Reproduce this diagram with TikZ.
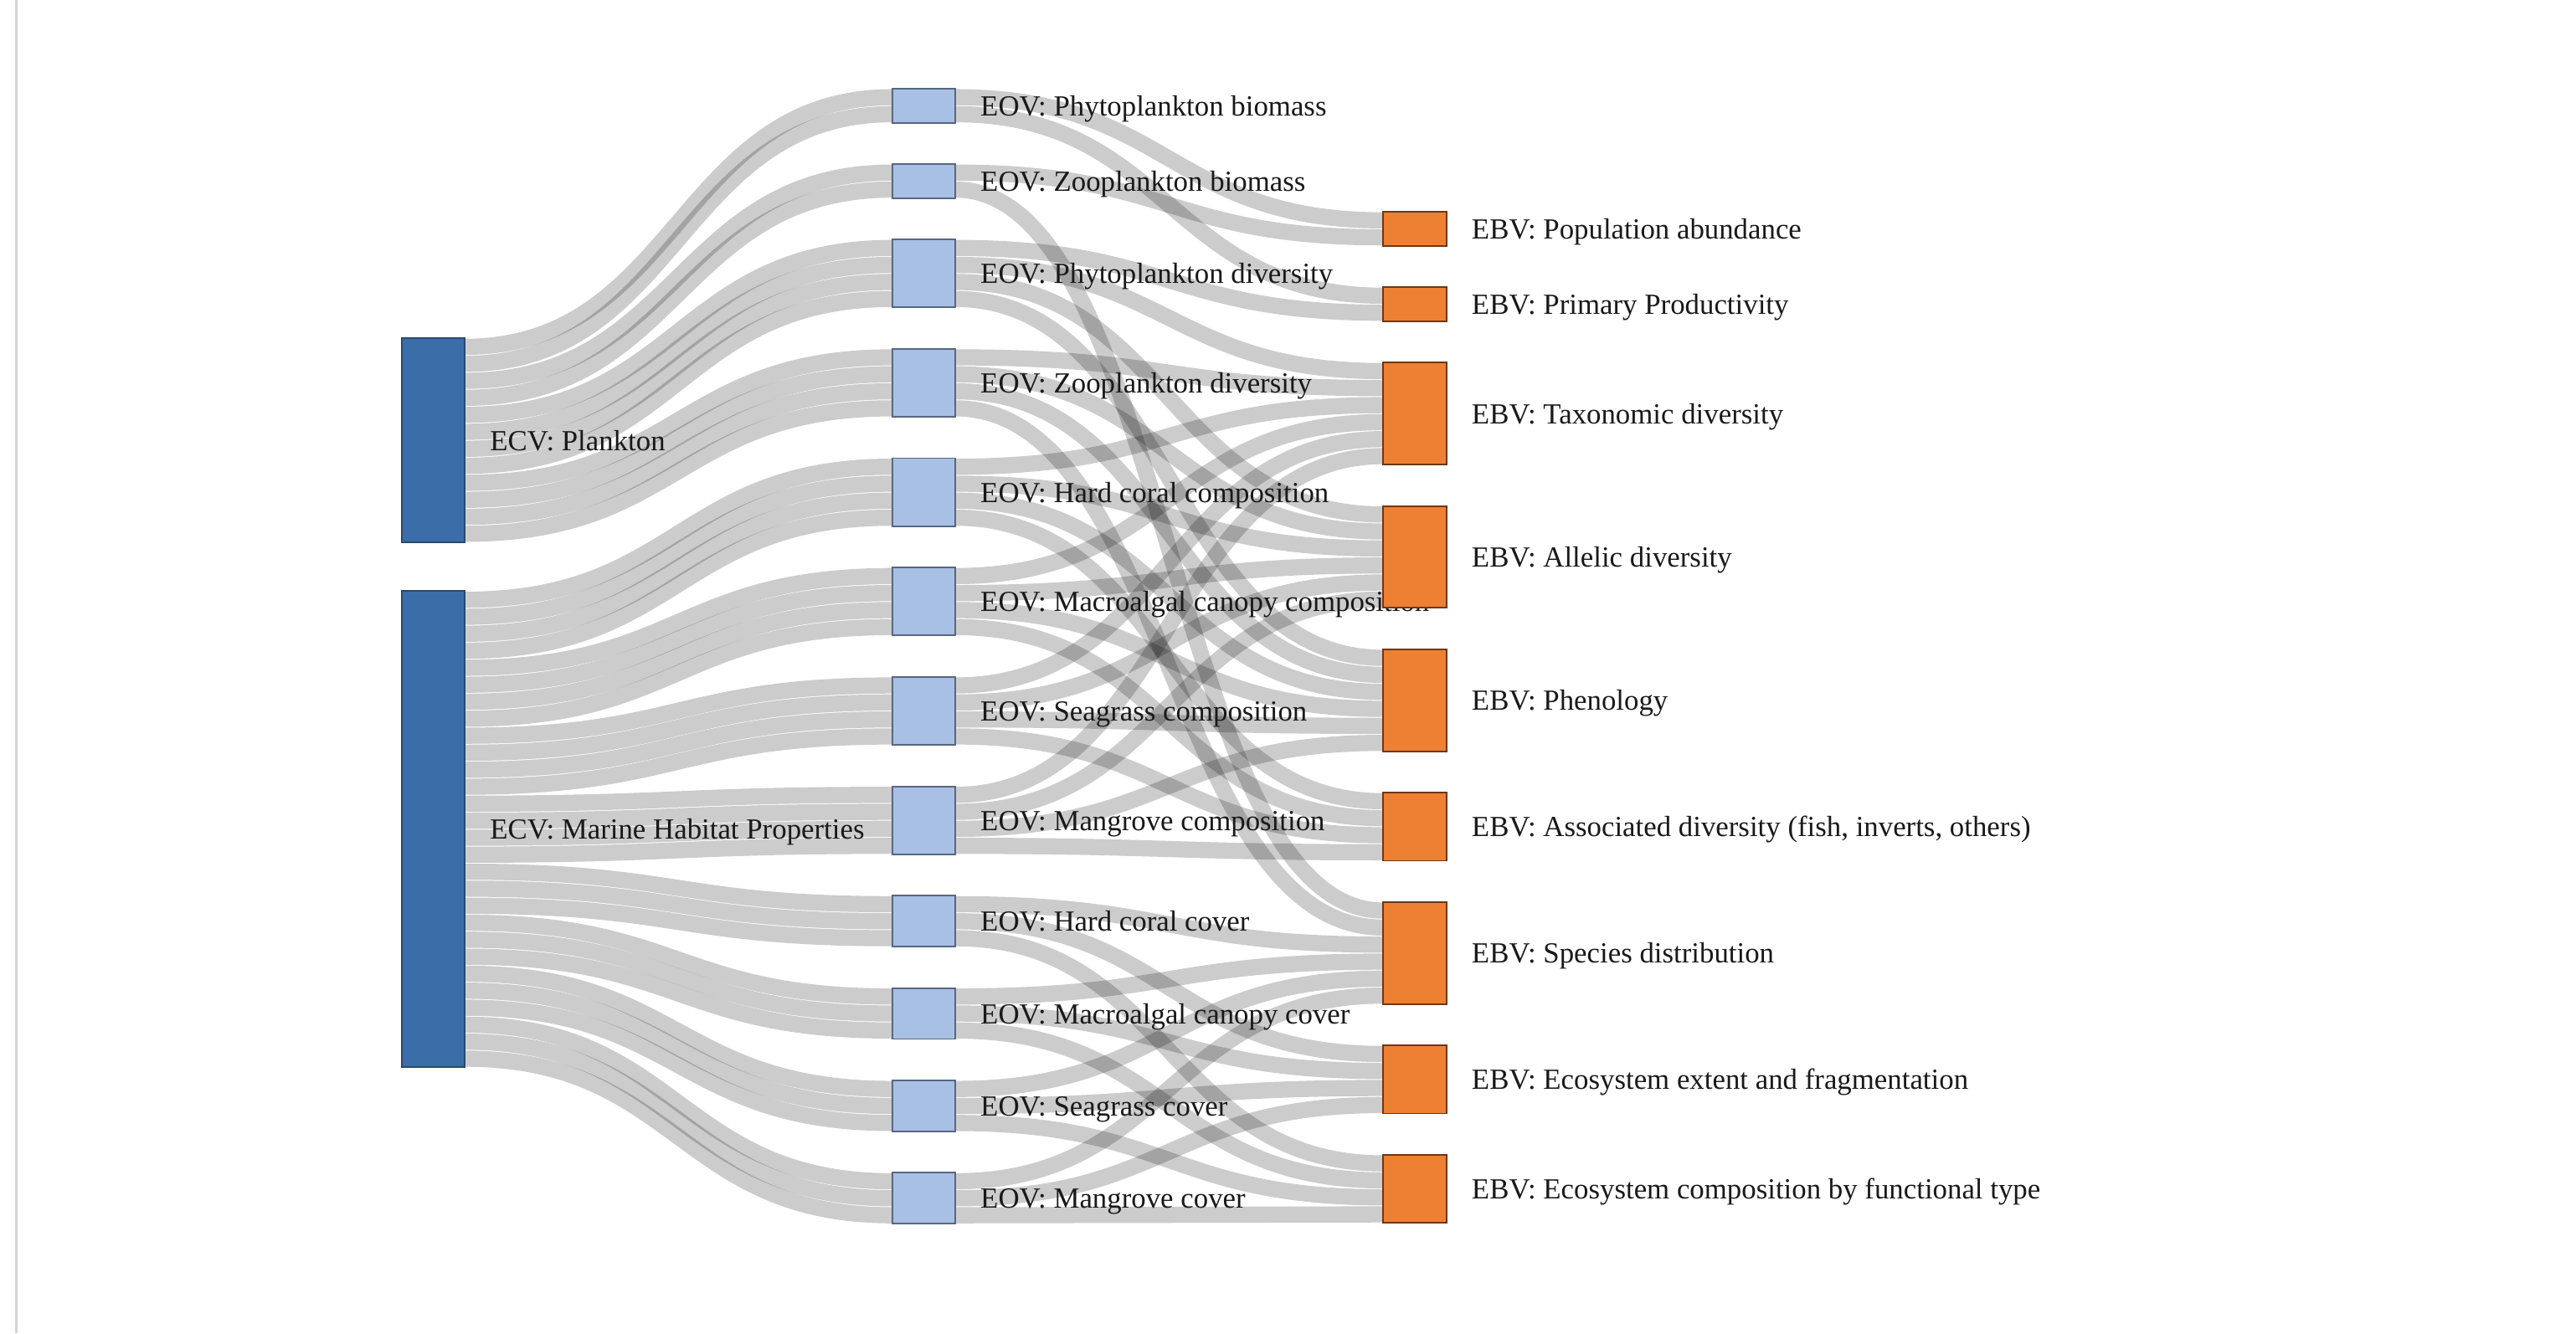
\documentclass[tikz,border=0pt]{standalone}
\usepackage{fontspec}
\setmainfont{Liberation Serif}
\usetikzlibrary{calc,backgrounds}

\definecolor{ecvfill}{RGB}{59,110,168}
\definecolor{ecvline}{RGB}{40,72,110}
\definecolor{eovfill}{RGB}{168,192,228}
\definecolor{eovline}{RGB}{88,102,128}
\definecolor{ebvfill}{RGB}{238,128,52}
\definecolor{ebvline}{RGB}{110,55,18}
\definecolor{lbltext}{RGB}{25,25,25}

\newcommand{\strand}[4]{%
  \draw[flow] ($(#1.north east)+(0,{(#2+0.5)*10.35})$)
    .. controls +(130,0) and +(-130,0) ..
    ($(#3.north west)+(0,{(#4+0.5)*10.35})$);}

\begin{document}
\begin{tikzpicture}[x=0.02cm, y=-0.02cm,
  box/.style={draw, line width=0.02cm, inner sep=0pt, outer sep=0pt, minimum width=0.77cm, anchor=north west},
  nh/.style={minimum height=#1*0.207cm},
  ecv/.style={box, fill=ecvfill, draw=ecvline},
  eov/.style={box, fill=eovfill, draw=eovline},
  ebv/.style={box, fill=ebvfill, draw=ebvline},
  lbl/.style={anchor=base west, inner sep=0pt, xshift=0.3cm, yshift=-0.35em, text=lbltext, font=\fontsize{10.1}{12}\selectfont},
  flow/.style={draw=black, draw opacity=0.2, line width=0.197cm}]
\useasboundingbox (0,0) rectangle (1568,812);
\draw[line width=0.03cm, draw=black!17] (10,0) -- (10,812);

\draw (244.5,206) node[ecv, nh=12] (plank) {} ;
\draw (plank.east) node[lbl] (plankt) {ECV: Plankton} ;
\draw (244.5,360) node[ecv, nh=28] (mhp) {} ;
\draw (mhp.east) node[lbl] (mhpt) {ECV: Marine Habitat Properties} ;

\draw (543,54) node[eov, nh=2] (pb) {} ;
\draw (pb.east) node[lbl] (pbt) {EOV: Phytoplankton biomass} ;
\draw (543,99.9) node[eov, nh=2] (zb) {} ;
\draw (zb.east) node[lbl] (zbt) {EOV: Zooplankton biomass} ;
\draw (543,145.8) node[eov, nh=4] (pd) {} ;
\draw (pd.east) node[lbl] (pdt) {EOV: Phytoplankton diversity} ;
\draw (543,212.4) node[eov, nh=4] (zd) {} ;
\draw (zd.east) node[lbl] (zdt) {EOV: Zooplankton diversity} ;
\draw (543,279) node[eov, nh=4] (hcm) {} ;
\draw (hcm.east) node[lbl] (hcmt) {EOV: Hard coral composition} ;
\draw (543,345.6) node[eov, nh=4] (mam) {} ;
\draw (mam.east) node[lbl] (mamt) {EOV: Macroalgal canopy composition} ;
\draw (543,412.2) node[eov, nh=4] (sgm) {} ;
\draw (sgm.east) node[lbl] (sgmt) {EOV: Seagrass composition} ;
\draw (543,478.8) node[eov, nh=4] (mgm) {} ;
\draw (mgm.east) node[lbl] (mgmt) {EOV: Mangrove composition} ;
\draw (543,545.4) node[eov, nh=3] (hcv) {} ;
\draw (hcv.east) node[lbl] (hcvt) {EOV: Hard coral cover} ;
\draw (543,601.6) node[eov, nh=3] (mav) {} ;
\draw (mav.east) node[lbl] (mavt) {EOV: Macroalgal canopy cover} ;
\draw (543,657.9) node[eov, nh=3] (sgv) {} ;
\draw (sgv.east) node[lbl] (sgvt) {EOV: Seagrass cover} ;
\draw (543,714.1) node[eov, nh=3] (mgv) {} ;
\draw (mgv.east) node[lbl] (mgvt) {EOV: Mangrove cover} ;

\draw (842,129) node[ebv, nh=2] (pa) {} ;
\draw (pa.east) node[lbl] (pat) {EBV: Population abundance} ;
\draw (842,174.9) node[ebv, nh=2] (pp) {} ;
\draw (pp.east) node[lbl] (ppt) {EBV: Primary Productivity} ;
\draw (842,220.8) node[ebv, nh=6] (td) {} ;
\draw (td.east) node[lbl] (tdt) {EBV: Taxonomic diversity} ;
\draw (842,308.1) node[ebv, nh=6] (ad) {} ;
\draw (ad.east) node[lbl] (adt) {EBV: Allelic diversity} ;
\draw (842,395.4) node[ebv, nh=6] (ph) {} ;
\draw (ph.east) node[lbl] (pht) {EBV: Phenology} ;
\draw (842,482.7) node[ebv, nh=4] (as) {} ;
\draw (as.east) node[lbl] (ast) {EBV: Associated diversity (fish, inverts, others)} ;
\draw (842,549.3) node[ebv, nh=6] (sd) {} ;
\draw (sd.east) node[lbl] (sdt) {EBV: Species distribution} ;
\draw (842,636.6) node[ebv, nh=4] (ee) {} ;
\draw (ee.east) node[lbl] (eet) {EBV: Ecosystem extent and fragmentation} ;
\draw (842,703.2) node[ebv, nh=4] (ec) {} ;
\draw (ec.east) node[lbl] (ect) {EBV: Ecosystem composition by functional type} ;

\begin{scope}[on background layer]
\foreach \t/\k/\n in {pb/0/2,zb/2/2,pd/4/4,zd/8/4}
  \foreach \i in {1,...,\n} {\strand{plank}{\k+\i-1}{\t}{\i-1}}
\foreach \t/\k/\n in {hcm/0/4,mam/4/4,sgm/8/4,mgm/12/4,hcv/16/3,mav/19/3,sgv/22/3,mgv/25/3}
  \foreach \i in {1,...,\n} {\strand{mhp}{\k+\i-1}{\t}{\i-1}}

\foreach \s/\a/\t/\b in {pb/0/pa/0,pb/1/pp/0,zb/0/pa/1,zb/1/sd/0,
    pd/0/pp/1,pd/1/td/0,pd/2/ad/0,pd/3/ph/0,
    zd/0/td/1,zd/1/ad/1,zd/2/ph/1,zd/3/sd/1}
  {\strand{\s}{\a}{\t}{\b}}
\foreach \s [count=\j from 2] in {hcm,mam,sgm,mgm}
  {\strand{\s}{0}{td}{\j} \strand{\s}{1}{ad}{\j} \strand{\s}{2}{ph}{\j} \strand{\s}{3}{as}{\j-2}}
\foreach \s [count=\j from 2] in {hcv,mav,sgv,mgv}
  {\strand{\s}{0}{sd}{\j} \strand{\s}{1}{ee}{\j-2} \strand{\s}{2}{ec}{\j-2}}
\end{scope}
\end{tikzpicture}
\end{document}
